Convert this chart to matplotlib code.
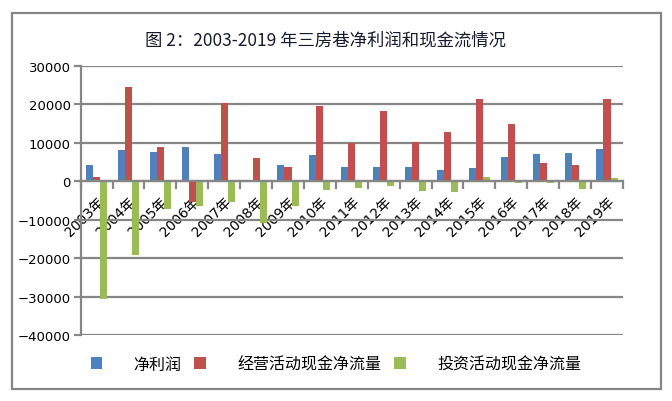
import numpy as np
import matplotlib
matplotlib.use('Agg')
import matplotlib.pyplot as plt
from matplotlib.patches import Rectangle

plt.rcParams['font.family'] = ['DejaVu Sans', 'Noto Sans CJK SC']

years = ['2003年', '2004年', '2005年', '2006年', '2007年', '2008年', '2009年',
         '2010年', '2011年', '2012年', '2013年', '2014年', '2015年', '2016年',
         '2017年', '2018年', '2019年']
net_profit = [4100, 8000, 7700, 8800, 7000, 400, 4100, 6700, 3600, 3600,
              3600, 2800, 3300, 6400, 7000, 7200, 8300]
op_cash = [1000, 24400, 9000, -5500, 20300, 5900, 3600, 19500, 9800, 18200,
           10100, 12700, 21300, 14800, 4600, 4100, 21300]
inv_cash = [-30700, -19300, -7300, -6500, -5500, -10900, -6500, -2300, -1800,
            -1300, -2600, -2900, 1000, -500, -500, -2100, 700]
names = ['净利润', '经营活动现金净流量', '投资活动现金净流量']
colors = ['#4F81BD', '#C0504D', '#9BBB59']
gray = '#868686'
cjk = ['Noto Sans CJK SC', 'DejaVu Sans']

fig = plt.figure(figsize=(6.72, 4.02), dpi=100)
ax = fig.add_axes([0.12, 0.164, 0.807, 0.67])

x = np.arange(len(years))
w = 0.22
for i, (vals, nm, c) in enumerate(zip([net_profit, op_cash, inv_cash], names, colors)):
    ax.bar(x + (i - 1) * w, vals, w, color=c, label=nm, zorder=3)

ax.set_xlim(-0.5, len(years) - 0.5)
ax.set_ylim(-40000, 30000)
ax.set_yticks(np.arange(-40000, 30001, 10000))
ax.yaxis.grid(True, color=gray, lw=1.6, zorder=0)
ax.tick_params(axis='y', colors=gray, length=5, width=1.6, labelsize=9.5,
               labelcolor='black', pad=2)
for s in ['top', 'right']:
    ax.spines[s].set_visible(False)
ax.spines['left'].set_color(gray)
ax.spines['left'].set_linewidth(1.6)
ax.spines['bottom'].set_position(('data', 0))
ax.spines['bottom'].set_color(gray)
ax.spines['bottom'].set_linewidth(1.6)
ax.spines['bottom'].set_zorder(4)

ax.set_xticks(x)
ax.set_xticklabels(years, rotation=45, ha='right', va='top', fontsize=10,
                   rotation_mode='anchor')
ax.set_xticks(np.arange(-0.5, len(years), 1), minor=True)
ax.tick_params(axis='x', which='major', length=0, pad=9)
ax.tick_params(axis='x', which='minor', length=6, width=1.6, color=gray)

fig.text(0.485, 0.9, '图 2：2003-2019 年三房巷净利润和现金流情况', ha='center',
         va='center', fontsize=12.5, color='#1a1a2e', family=cjk)

leg = fig.legend(loc='center', bbox_to_anchor=(0.5, 0.092), ncol=3, frameon=False,
                 prop={'family': cjk, 'size': 11.5}, handlelength=0.7,
                 handleheight=0.7, handletextpad=2.0, columnspacing=0.8)

fig.patches.append(Rectangle((12 / 672, 1 - 390 / 402), 649 / 672, 376 / 402,
                             transform=fig.transFigure, fill=False,
                             edgecolor=gray, lw=1.6))

fig.savefig('out.png', dpi=100)
